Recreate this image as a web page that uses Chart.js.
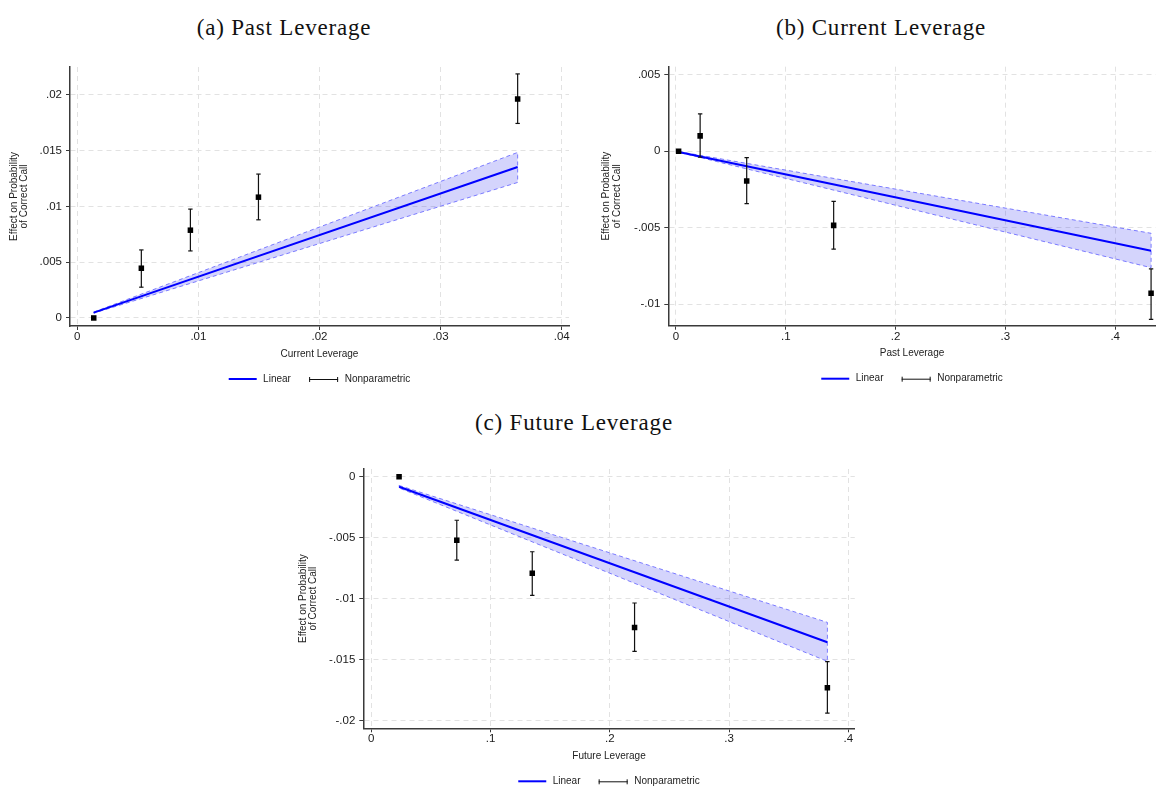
<!DOCTYPE html>
<html>
<head>
<meta charset="utf-8">
<script src="https://cdn.jsdelivr.net/npm/chart.js@4.4.1/dist/chart.umd.min.js"></script>
<style>
  body { margin: 0; background: #fff; width: 1161px; height: 791px; position: relative; overflow: hidden; }
  canvas { position: absolute; }
  .ttl { position: absolute; width: 400px; text-align: center; font: 23px/23px "Liberation Serif", serif; letter-spacing: 0.8px; color: #111; white-space: nowrap; }
</style>
</head>
<body>
<div class="ttl" style="left:84px;top:16px">(a) Past Leverage</div>
<div class="ttl" style="left:681px;top:16px">(b) Current Leverage</div>
<div class="ttl" style="left:374px;top:411px">(c) Future Leverage</div>
<canvas id="chartA" width="580" height="370" style="left:0;top:40px"></canvas>
<canvas id="chartB" width="581" height="370" style="left:580px;top:40px"></canvas>
<canvas id="chartC" width="580" height="351" style="left:280px;top:440px"></canvas>
<script>
// ---- panel (a): x axis = Current Leverage
const xA = [0.00136, 0.00529, 0.00934, 0.01496, 0.03636];
const yA = [0, 0.00446, 0.00787, 0.01083, 0.01963];
const loA = [null, 0.00276, 0.00601, 0.0088, 0.01744];
const hiA = [null, 0.0061, 0.00976, 0.0129, 0.02188];
const fitXA = [0.00136, 0.03636];
const fitA = [0.00048, 0.01353];
const fitLoA = [0.00043, 0.01215];
const fitHiA = [0.00053, 0.01484];
const xTicksA = [0, 0.01, 0.02, 0.03, 0.04];
const xLabelsA = ['0', '.01', '.02', '.03', '.04'];
const yTicksA = [0, 0.005, 0.01, 0.015, 0.02];
const yLabelsA = ['0', '.005', '.01', '.015', '.02'];

// ---- panel (b): x axis = Past Leverage
const xB = [0.0024, 0.022, 0.0644, 0.1436, 0.4327];
const yB = [0, 0.00101, -0.00194, -0.00485, -0.0093];
const loB = [null, -0.00039, -0.00343, -0.0064, -0.011];
const hiB = [null, 0.00245, -0.00041, -0.00328, -0.0077];
const fitXB = [0.0024, 0.4327];
const fitB = [-0.00004, -0.00651];
const fitLoB = [-0.00006, -0.00762];
const fitHiB = [-0.00002, -0.00537];
const xTicksB = [0, 0.1, 0.2, 0.3, 0.4];
const xLabelsB = ['0', '.1', '.2', '.3', '.4'];
const yTicksB = [-0.01, -0.005, 0, 0.005];
const yLabelsB = ['-.01', '-.005', '0', '.005'];

// ---- panel (c): x axis = Future Leverage
const xC = [0.0233, 0.0717, 0.135, 0.2208, 0.3825];
const yC = [0, -0.00521, -0.00792, -0.01235, -0.0173];
const loC = [null, -0.00683, -0.00972, -0.01431, -0.01937];
const hiC = [null, -0.00357, -0.00615, -0.01035, -0.01516];
const fitXC = [0.0233, 0.3825];
const fitC = [-0.00082, -0.01357];
const fitLoC = [-0.00092, -0.01513];
const fitHiC = [-0.00072, -0.01194];
const xTicksC = [0, 0.1, 0.2, 0.3, 0.4];
const xLabelsC = ['0', '.1', '.2', '.3', '.4'];
const yTicksC = [-0.02, -0.015, -0.01, -0.005, 0];
const yLabelsC = ['-.02', '-.015', '-.01', '-.005', '0'];

const yTitle = ['Effect on Probability', 'of Correct Call'];
const legendLabels = ['Linear', 'Nonparametric'];

const sans = '"Liberation Sans", Arial, sans-serif';
const gridColor = '#e2e2e2';
const axisColor = '#3a3a3a';

// legend drawn under the plot like Stata's: blue line, then error bar symbol
const stataLegend = {
    id: 'stataLegend',
    afterDraw(chart) {
        const ctx = chart.ctx;
        const area = chart.chartArea;
        const y = area.bottom + 53;
        ctx.save();
        ctx.font = '10px ' + sans;
        const w2 = ctx.measureText(legendLabels[1]).width;
        const total = 34.4 + 46 + 29 + 6.6 + w2;
        let x = (area.left + area.right) / 2 - total / 2;
        ctx.strokeStyle = '#0000ff';
        ctx.lineWidth = 2;
        ctx.beginPath(); ctx.moveTo(x, y); ctx.lineTo(x + 28, y); ctx.stroke();
        ctx.fillStyle = '#222';
        ctx.textBaseline = 'middle';
        ctx.fillText(legendLabels[0], x + 34.4, y);
        const ex = x + 34.4 + 46;
        ctx.strokeStyle = '#111';
        ctx.lineWidth = 1;
        ctx.beginPath();
        ctx.moveTo(ex, y + 0.5); ctx.lineTo(ex + 29, y + 0.5);
        ctx.moveTo(ex + 0.5, y - 2); ctx.lineTo(ex + 0.5, y + 3);
        ctx.moveTo(ex + 28.5, y - 2); ctx.lineTo(ex + 28.5, y + 3);
        ctx.stroke();
        ctx.fillText(legendLabels[1], ex + 29 + 6.6, y);
        ctx.restore();
    }
};

function errorBarSets(xs, lo, hi) {
    const sets = [];
    xs.forEach((x, i) => {
        if (lo[i] === null) return;
        sets.push({
            data: [{x: x, y: lo[i]}, {x: x, y: hi[i]}],
            borderColor: '#111',
            borderWidth: 1.2,
            pointStyle: 'line',
            pointRadius: 2.2,
            pointBorderColor: '#111',
            pointBorderWidth: 1.2,
            order: 1
        });
    });
    return sets;
}

function makeChart(id, p) {
    const band = [
        {x: p.fitX[0], y: p.fitHi[0]}, {x: p.fitX[1], y: p.fitHi[1]},
        {x: p.fitX[1], y: p.fitLo[1]}, {x: p.fitX[0], y: p.fitLo[0]},
        {x: p.fitX[0], y: p.fitHi[0]}
    ];
    const datasets = [
        {
            data: p.x.map((x, i) => ({x: x, y: p.y[i]})),
            showLine: false,
            pointStyle: 'rect',
            pointRadius: 3.9,
            pointBackgroundColor: '#000',
            pointBorderColor: '#000',
            pointBorderWidth: 0,
            order: 0
        },
        ...errorBarSets(p.x, p.lo, p.hi),
        {
            data: [{x: p.fitX[0], y: p.fit[0]}, {x: p.fitX[1], y: p.fit[1]}],
            borderColor: '#0000ff',
            borderWidth: 2,
            pointRadius: 0,
            order: 2
        },
        {
            data: band,
            borderColor: '#7a7aff',
            borderWidth: 1,
            borderDash: [4, 3],
            backgroundColor: 'rgba(40, 40, 240, 0.2)',
            fill: 'shape',
            pointRadius: 0,
            order: 3
        }
    ];

    return new Chart(document.getElementById(id), {
        type: 'line',
        data: { datasets: datasets },
        plugins: [stataLegend],
        options: {
            responsive: false,
            animation: false,
            devicePixelRatio: 1,
            events: [],
            layout: { padding: { left: 0, right: p.padR, top: p.padT, bottom: p.padB } },
            plugins: { legend: { display: false }, tooltip: { enabled: false } },
            scales: {
                x: {
                    type: 'linear',
                    min: p.xMin, max: p.xMax,
                    afterBuildTicks: s => { s.ticks = p.xTicks.map(v => ({value: v})); },
                    afterFit: s => { s.height = 34; },
                    ticks: {
                        callback: (v, i) => p.xLabels[i],
                        font: { family: sans, size: 11.5 },
                        color: '#1a1a1a', padding: 0, maxRotation: 0, autoSkip: false
                    },
                    grid: { color: gridColor, lineWidth: 1, tickColor: axisColor, tickLength: 4, tickWidth: 1 },
                    border: { color: axisColor, width: 1.5, dash: [5, 4] },
                    title: { display: true, text: p.xTitle, font: { family: sans, size: 10 }, color: '#222', padding: 0 }
                },
                y: {
                    type: 'linear',
                    min: p.yMin, max: p.yMax,
                    afterBuildTicks: s => { s.ticks = p.yTicks.map(v => ({value: v})); },
                    afterFit: s => { s.width = p.yWidth; },
                    ticks: {
                        callback: (v, i) => p.yLabels[i],
                        font: { family: sans, size: 11.5 },
                        color: '#1a1a1a', padding: 4, autoSkip: false
                    },
                    grid: { color: gridColor, lineWidth: 1, tickColor: axisColor, tickLength: 4, tickWidth: 1 },
                    border: { color: axisColor, width: 1.5, dash: [5, 4] },
                    title: {
                        display: true, text: yTitle,
                        font: { family: sans, size: 10, lineHeight: 1.05 },
                        color: '#222', padding: { top: p.yTitlePad, bottom: 0 }
                    }
                }
            }
        }
    });
}

makeChart('chartA', {
    x: xA, y: yA, lo: loA, hi: hiA,
    fitX: fitXA, fit: fitA, fitLo: fitLoA, fitHi: fitHiA,
    xTicks: xTicksA, xLabels: xLabelsA, yTicks: yTicksA, yLabels: yLabelsA,
    xMin: -0.0006, xMax: 0.0406, yMin: -0.00072, yMax: 0.0225,
    xTitle: 'Current Leverage',
    yWidth: 70, yTitlePad: 8.5, padR: 11, padT: 27, padB: 50
});

makeChart('chartB', {
    x: xB, y: yB, lo: loB, hi: hiB,
    fitX: fitXB, fit: fitB, fitLo: fitLoB, fitHi: fitHiB,
    xTicks: xTicksB, xLabels: xLabelsB, yTicks: yTicksB, yLabels: yLabelsB,
    xMin: -0.007, xMax: 0.437, yMin: -0.01142, yMax: 0.00554,
    xTitle: 'Past Leverage',
    yWidth: 88.3, yTitlePad: 21.4, padR: 1, padT: 26.7, padB: 50.3
});

makeChart('chartC', {
    x: xC, y: yC, lo: loC, hi: hiC,
    fitX: fitXC, fit: fitC, fitLo: fitLoC, fitHi: fitHiC,
    xTicks: xTicksC, xLabels: xLabelsC, yTicks: yTicksC, yLabels: yLabelsC,
    xMin: -0.0067, xMax: 0.4055, yMin: -0.02062, yMax: 0.00063,
    xTitle: 'Future Leverage',
    yWidth: 83.3, yTitlePad: 17.5, padR: 1.7, padT: 29, padB: 28.7
});
</script>
</body>
</html>
